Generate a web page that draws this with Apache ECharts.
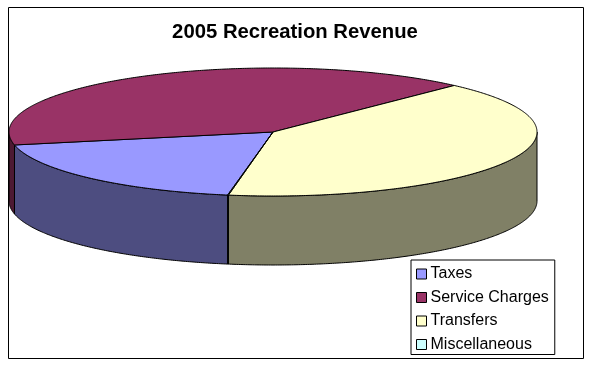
<!DOCTYPE html>
<html>
<head>
<meta charset="utf-8">
<style>
html, body { margin: 0; padding: 0; background: #fff; }
#main { width: 593px; height: 366px; }
</style>
<script src="https://cdn.jsdelivr.net/npm/echarts@6/dist/echarts.min.js"></script>
</head>
<body>
<div id="main"></div>
<script>
var categories = ['Taxes', 'Service Charges', 'Transfers', 'Miscellaneous'];
var values = [19.0, 40.3, 40.65, 0.05];
var topColors = ['#9999ff', '#993366', '#ffffcc', '#ccffff'];
var wallColors = ['#4d4d80', '#4d1a33', '#808066', '#668080'];

// the 3d look: ellipse for the top face, wall hanging below it
var cx = 273, cy = 132, rx = 264, ry = 64, depth = 69;
var startAngle = 189.9;

var total = values.reduce(function (a, b) { return a + b; }, 0);

function rim(deg, drop) {
    var r = deg * Math.PI / 180;
    return [cx + rx * Math.sin(r), cy - ry * Math.cos(r) + (drop || 0)];
}

function arcPoints(from, to, drop) {
    var pts = [];
    for (var a = from; a < to; a += 0.5) {
        pts.push(rim(a, drop));
    }
    pts.push(rim(to, drop));
    return pts;
}

// only the part of the wall between 90 and 270 degrees faces the viewer
function wallPoints(from, to) {
    var segs = [];
    [[90, 270], [450, 630]].forEach(function (v) {
        var a = Math.max(from, v[0]), b = Math.min(to, v[1]);
        if (b > a) {
            segs.push(arcPoints(a, b, 0).concat(arcPoints(a, b, depth).reverse()));
        }
    });
    return segs;
}

function sliceRender(index) {
    return function (params, api) {
        var before = 0;
        for (var i = 0; i < index; i++) before += values[i];
        var from = startAngle + before / total * 360;
        var to = from + api.value(0) / total * 360;
        var children = [];
        wallPoints(from, to).forEach(function (pts) {
            children.push({
                type: 'polygon',
                shape: { points: pts },
                style: { fill: wallColors[index], stroke: '#000', lineWidth: 1 }
            });
        });
        children.push({
            type: 'polygon',
            shape: { points: [[cx, cy]].concat(arcPoints(from, to, 0)) },
            style: { fill: topColors[index], stroke: '#000', lineWidth: 1 },
            z2: 5
        });
        return { type: 'group', children: children };
    };
}

var chart = echarts.init(document.getElementById('main'));
var option = {
    animation: false,
    backgroundColor: '#fff',
    title: {
        text: '2005 Recreation Revenue',
        left: 295,
        top: 22,
        textAlign: 'center',
        padding: 0,
        textStyle: {
            fontFamily: 'Liberation Sans',
            fontSize: 20.3,
            fontWeight: 'bold',
            color: '#000'
        }
    },
    legend: {
        orient: 'vertical',
        left: 411,
        top: 260,
        padding: [6, 6, 2, 5],
        itemGap: 7.5,
        itemWidth: 10,
        itemHeight: 10,
        borderColor: '#000',
        borderWidth: 1,
        icon: 'rect',
        itemStyle: { borderColor: '#000', borderWidth: 1 },
        textStyle: {
            fontFamily: 'Liberation Sans',
            fontSize: 16,
            lineHeight: 14,
            color: '#000',
            padding: [0, 0, 0, -1]
        },
        data: categories
    },
    graphic: [{
        type: 'rect',
        shape: { x: 8.5, y: 7.5, width: 575, height: 351 },
        style: { fill: 'none', stroke: '#000', lineWidth: 1 },
        silent: true
    }],
    series: categories.map(function (name, i) {
        return {
            name: name,
            type: 'custom',
            coordinateSystem: 'none',
            itemStyle: { color: topColors[i] },
            renderItem: sliceRender(i),
            data: [[values[i]]],
            silent: true
        };
    })
};
chart.setOption(option);
</script>
</body>
</html>
